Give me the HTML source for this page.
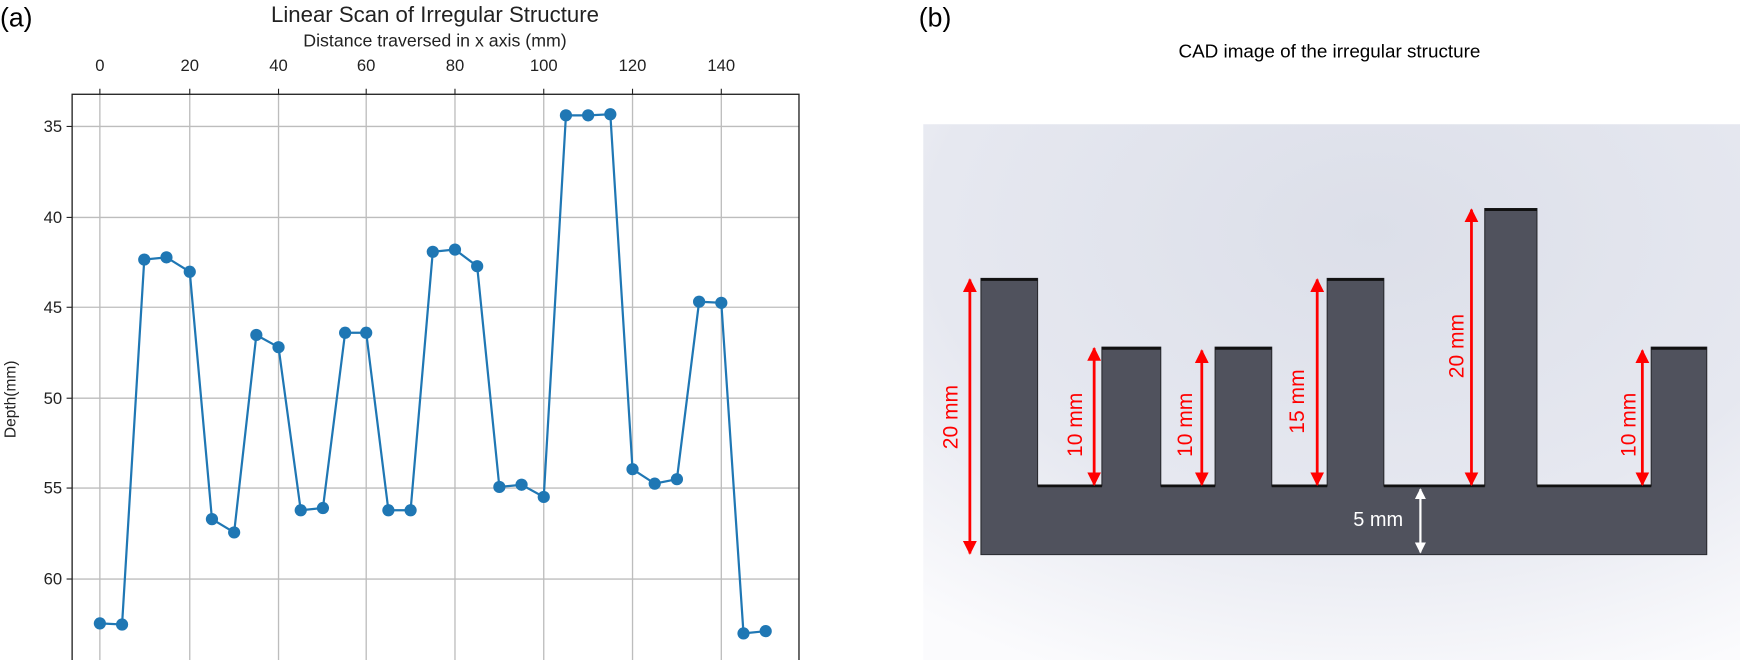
<!DOCTYPE html>
<html><head><meta charset="utf-8"><style>
html,body{margin:0;padding:0;background:#fff;width:1740px;height:660px;overflow:hidden}
svg{display:block}
text{font-family:"Liberation Sans","DejaVu Sans",sans-serif}
</style></head><body>
<svg width="1740" height="660" viewBox="0 0 1568 595" preserveAspectRatio="none" xmlns="http://www.w3.org/2000/svg">
<defs>
<radialGradient id="bg" cx="0.55" cy="0.2" r="0.9">
<stop offset="0" stop-color="#dcdfe9"/><stop offset="0.6" stop-color="#e6e8f0"/><stop offset="1" stop-color="#fbfbfd"/>
</radialGradient>
<marker id="ar" viewBox="0 0 10 10" refX="9" refY="5" markerWidth="5" markerHeight="5" orient="auto-start-reverse"><path d="M0,0L10,5L0,10z" fill="#ff0000"/></marker>
<marker id="aw" viewBox="0 0 10 10" refX="9" refY="5" markerWidth="5" markerHeight="5" orient="auto-start-reverse"><path d="M0,0L10,5L0,10z" fill="#ffffff"/></marker>
</defs>
<text x="0" y="24" font-size="24" fill="#000">(a)</text>
<text x="392" y="20" font-size="20" text-anchor="middle" fill="#222">Linear Scan of Irregular Structure</text>
<text x="392" y="42" font-size="16" text-anchor="middle" fill="#222">Distance traversed in x axis (mm)</text>
<g stroke="#bdbdbd" stroke-width="1.2">
<line x1="90" y1="85" x2="90" y2="595"/><line x1="171" y1="85" x2="171" y2="595"/><line x1="251" y1="85" x2="251" y2="595"/><line x1="330" y1="85" x2="330" y2="595"/><line x1="410" y1="85" x2="410" y2="595"/><line x1="490" y1="85" x2="490" y2="595"/><line x1="570" y1="85" x2="570" y2="595"/><line x1="650" y1="85" x2="650" y2="595"/>
<line x1="65" y1="114" x2="720" y2="114"/><line x1="65" y1="196" x2="720" y2="196"/><line x1="65" y1="277" x2="720" y2="277"/><line x1="65" y1="359" x2="720" y2="359"/><line x1="65" y1="440" x2="720" y2="440"/><line x1="65" y1="522" x2="720" y2="522"/>
</g>
<rect x="65" y="85" width="655" height="511" fill="none" stroke="#222" stroke-width="1.2"/>
<g font-size="15" fill="#222" text-anchor="middle">
<text x="90" y="64">0</text><text x="171" y="64">20</text><text x="251" y="64">40</text><text x="330" y="64">60</text><text x="410" y="64">80</text><text x="490" y="64">100</text><text x="570" y="64">120</text><text x="650" y="64">140</text>
</g>
<g stroke="#222"><line x1="90" y1="80" x2="90" y2="85"/><line x1="171" y1="80" x2="171" y2="85"/><line x1="251" y1="80" x2="251" y2="85"/><line x1="330" y1="80" x2="330" y2="85"/><line x1="410" y1="80" x2="410" y2="85"/><line x1="490" y1="80" x2="490" y2="85"/><line x1="570" y1="80" x2="570" y2="85"/><line x1="650" y1="80" x2="650" y2="85"/>
<line x1="60" y1="114" x2="65" y2="114"/><line x1="60" y1="196" x2="65" y2="196"/><line x1="60" y1="277" x2="65" y2="277"/><line x1="60" y1="359" x2="65" y2="359"/><line x1="60" y1="440" x2="65" y2="440"/><line x1="60" y1="522" x2="65" y2="522"/></g>
<g font-size="15" fill="#222" text-anchor="end">
<text x="56" y="119">35</text><text x="56" y="201">40</text><text x="56" y="282">45</text><text x="56" y="364">50</text><text x="56" y="445">55</text><text x="56" y="527">60</text>
</g>
<text transform="translate(14,360) rotate(-90)" font-size="14" text-anchor="middle" fill="#222">Depth(mm)</text>
<polyline fill="none" stroke="#1f77b4" stroke-width="2" points="90,562 110,563 130,234 150,232 171,245 191,468 211,480 231,302 251,313 271,460 291,458 311,300 330,300 350,460 370,460 390,227 410,225 430,240 450,439 470,437 490,448 510,104 530,104 550,103 570,423 590,436 610,432 630,272 650,273 670,571 690,569"/>
<g fill="#1f77b4">
<circle cx="90" cy="562" r="5.5"/><circle cx="110" cy="563" r="5.5"/><circle cx="130" cy="234" r="5.5"/><circle cx="150" cy="232" r="5.5"/><circle cx="171" cy="245" r="5.5"/><circle cx="191" cy="468" r="5.5"/><circle cx="211" cy="480" r="5.5"/><circle cx="231" cy="302" r="5.5"/><circle cx="251" cy="313" r="5.5"/><circle cx="271" cy="460" r="5.5"/><circle cx="291" cy="458" r="5.5"/><circle cx="311" cy="300" r="5.5"/><circle cx="330" cy="300" r="5.5"/><circle cx="350" cy="460" r="5.5"/><circle cx="370" cy="460" r="5.5"/><circle cx="390" cy="227" r="5.5"/><circle cx="410" cy="225" r="5.5"/><circle cx="430" cy="240" r="5.5"/><circle cx="450" cy="439" r="5.5"/><circle cx="470" cy="437" r="5.5"/><circle cx="490" cy="448" r="5.5"/><circle cx="510" cy="104" r="5.5"/><circle cx="530" cy="104" r="5.5"/><circle cx="550" cy="103" r="5.5"/><circle cx="570" cy="423" r="5.5"/><circle cx="590" cy="436" r="5.5"/><circle cx="610" cy="432" r="5.5"/><circle cx="630" cy="272" r="5.5"/><circle cx="650" cy="273" r="5.5"/><circle cx="670" cy="571" r="5.5"/><circle cx="690" cy="569" r="5.5"/>
</g>
<text x="828" y="24" font-size="24" fill="#000">(b)</text>
<text x="1198" y="52" font-size="17" text-anchor="middle" fill="#000">CAD image of the irregular structure</text>
<rect x="832" y="112" width="736" height="483" fill="url(#bg)"/>
<path d="M884,251 H935 V438 H993 V313 H1046 V438 H1095 V313 H1146 V438 H1196 V251 H1247 V438 H1338 V188 H1385 V438 H1488 V313 H1538 V500 H884 Z" fill="#50525d" stroke="#2a2b30" stroke-width="1"/>
<g stroke="#111" stroke-width="2.5">
<line x1="884" y1="252" x2="935" y2="252"/><line x1="993" y1="314" x2="1046" y2="314"/><line x1="1095" y1="314" x2="1146" y2="314"/><line x1="1196" y1="252" x2="1247" y2="252"/><line x1="1338" y1="189" x2="1385" y2="189"/><line x1="1488" y1="314" x2="1538" y2="314"/>
<line x1="935" y1="438" x2="993" y2="438"/><line x1="1046" y1="438" x2="1095" y2="438"/><line x1="1146" y1="438" x2="1196" y2="438"/><line x1="1247" y1="438" x2="1338" y2="438"/><line x1="1385" y1="438" x2="1488" y2="438"/>
</g>
<g stroke="#ff0000" stroke-width="2.5" marker-start="url(#ar)" marker-end="url(#ar)">
<line x1="874" y1="252" x2="874" y2="499"/><line x1="986" y1="314" x2="986" y2="437"/><line x1="1083" y1="316" x2="1083" y2="437"/><line x1="1187" y1="252" x2="1187" y2="437"/><line x1="1326" y1="189" x2="1326" y2="437"/><line x1="1480" y1="316" x2="1480" y2="437"/>
</g>
<line x1="1280" y1="441" x2="1280" y2="498" stroke="#fff" stroke-width="2" marker-start="url(#aw)" marker-end="url(#aw)"/>
<g font-size="19" fill="#ff0000" text-anchor="middle">
<text transform="translate(863,376) rotate(-90)">20 mm</text>
<text transform="translate(975,383) rotate(-90)">10 mm</text>
<text transform="translate(1074,383) rotate(-90)">10 mm</text>
<text transform="translate(1175,362) rotate(-90)">15 mm</text>
<text transform="translate(1319,312) rotate(-90)">20 mm</text>
<text transform="translate(1474,383) rotate(-90)">10 mm</text>
</g>
<text x="1242" y="474" font-size="18" fill="#fff" text-anchor="middle">5 mm</text>
</svg>
</body></html>
